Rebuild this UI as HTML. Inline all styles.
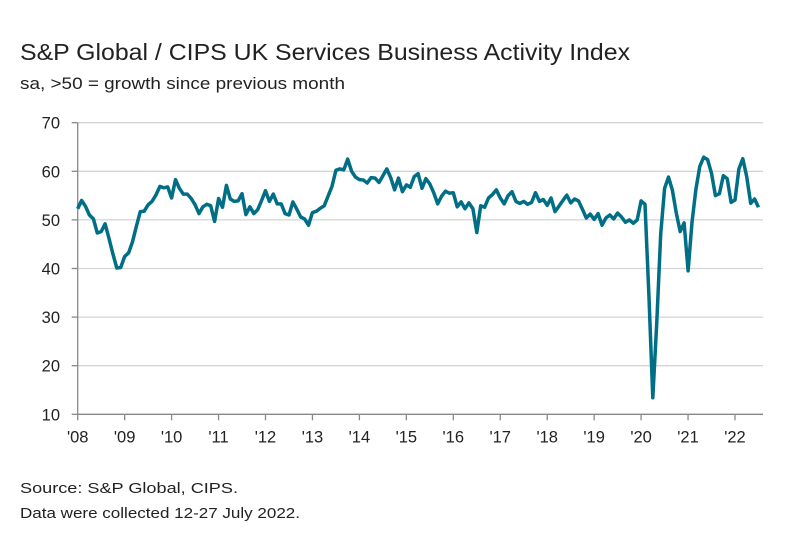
<!DOCTYPE html>
<html><head><meta charset="utf-8"><style>
body{margin:0;background:#fff;font-family:"Liberation Sans",sans-serif;}
</style></head><body>
<svg width="801" height="543" xmlns="http://www.w3.org/2000/svg" font-family="Liberation Sans, sans-serif">
<rect width="801" height="543" fill="#fff"/>
<text x="20" y="60" font-size="23" fill="#222" textLength="610" lengthAdjust="spacingAndGlyphs">S&amp;P Global / CIPS UK Services Business Activity Index</text>
<text x="20" y="89" font-size="16.5" fill="#222" textLength="325" lengthAdjust="spacingAndGlyphs">sa, &gt;50 = growth since previous month</text>
<g id="grid"></g><g id="axes"></g>
<path id="line" fill="none" stroke="#006f85" stroke-width="3.5" stroke-linejoin="round"/>
<text x="20" y="493" font-size="15" fill="#222" textLength="218" lengthAdjust="spacingAndGlyphs">Source: S&amp;P Global, CIPS.</text>
<text x="20" y="518" font-size="15" fill="#222" textLength="280" lengthAdjust="spacingAndGlyphs">Data were collected 12-27 July 2022.</text>
</svg>
<script>
const yTicks=[10,20,30,40,50,60,70];
const yearLabels=["'08","'09","'10","'11","'12","'13","'14","'15","'16","'17","'18","'19","'20","'21","'22"];
const values=[
52.3,54.0,52.8,51.0,50.2,47.3,47.6,49.2,46.2,43.0,40.1,40.2,
42.5,43.2,45.5,48.7,51.7,51.8,53.1,53.8,55.1,56.9,56.6,56.8,
54.5,58.3,56.5,55.3,55.3,54.4,53.1,51.3,52.7,53.2,52.9,49.7,
54.4,52.6,57.1,54.3,53.8,53.9,55.4,51.1,52.7,51.3,52.1,54.0,
56.0,53.8,55.3,53.3,53.3,51.3,51.0,53.7,52.2,50.6,50.2,48.9,
51.5,51.8,52.4,52.9,54.9,56.9,60.2,60.5,60.3,62.5,60.0,58.8,
58.3,58.2,57.6,58.7,58.6,57.7,59.1,60.5,58.7,56.2,58.6,55.8,
57.2,56.7,58.9,59.5,56.5,58.5,57.4,55.6,53.3,54.9,55.9,55.5,
55.6,52.7,53.7,52.3,53.5,52.3,47.4,52.9,52.6,54.5,55.2,56.2,
54.5,53.3,55.0,55.8,53.8,53.4,53.8,53.2,53.6,55.6,53.8,54.2,
53.0,54.5,51.7,52.8,54.0,55.1,53.5,54.3,53.9,52.2,50.4,51.2,
50.1,51.3,48.9,50.4,51.0,50.2,51.4,50.6,49.5,50.0,49.3,50.0,
53.9,53.2,34.5,13.4,29.0,47.1,56.5,58.8,56.1,51.4,47.6,49.4,
39.5,49.5,56.3,61.0,62.9,62.4,59.6,55.0,55.4,59.1,58.5,53.6,
54.1,60.5,62.6,58.9,53.4,54.3,52.6];
const ns="http://www.w3.org/2000/svg";
const x0=77.7,yearW=46.95,yTop=122.7,yBot=414.3;
const y=v=>yBot-(v-10)/60*(yBot-yTop);
const xm=i=>x0+i*yearW/12;
const grid=document.getElementById('grid'),axes=document.getElementById('axes');
yTicks.forEach(t=>{
 const l=document.createElementNS(ns,'line');
 
 
 l.setAttribute('x1',x0);l.setAttribute('x2',763);l.setAttribute('y1',y(t));l.setAttribute('y2',y(t));
 l.setAttribute('stroke',t===10?'#888':'#d4d4d4');l.setAttribute('stroke-width',1.3);grid.appendChild(l);
 const tx=document.createElementNS(ns,'text');
 
 
 tx.setAttribute('x',60);tx.setAttribute('y',y(t)+6);tx.setAttribute('text-anchor','end');tx.setAttribute('font-size','16.5');tx.setAttribute('fill','#222');tx.textContent=t;axes.appendChild(tx);
});
const ya=document.createElementNS(ns,'line');


ya.setAttribute('x1',x0);ya.setAttribute('x2',x0);ya.setAttribute('y1',yTop);ya.setAttribute('y2',yBot);ya.setAttribute('stroke','#888');ya.setAttribute('stroke-width',1.3);axes.appendChild(ya);
yTicks.forEach(t=>{const k=document.createElementNS(ns,'line');
 
 
 k.setAttribute('x1',x0-6);k.setAttribute('x2',x0);k.setAttribute('y1',y(t));k.setAttribute('y2',y(t));k.setAttribute('stroke','#888');k.setAttribute('stroke-width',1.3);axes.appendChild(k);});
yearLabels.forEach((lab,i)=>{
 const xx=x0+i*yearW;
 const k=document.createElementNS(ns,'line');
 
 
 k.setAttribute('x1',xx);k.setAttribute('x2',xx);k.setAttribute('y1',yBot);k.setAttribute('y2',yBot+6);k.setAttribute('stroke','#888');k.setAttribute('stroke-width',1.3);axes.appendChild(k);
 const tx=document.createElementNS(ns,'text');
 
 
 tx.setAttribute('x',xx);tx.setAttribute('y',yBot+28);tx.setAttribute('text-anchor','middle');tx.setAttribute('font-size','16.5');tx.setAttribute('fill','#222');tx.textContent=lab;axes.appendChild(tx);
});
document.getElementById('line').setAttribute('d',values.map((v,i)=>(i?'L':'M')+xm(i).toFixed(1)+','+y(v).toFixed(1)).join(''));
</script>
</body></html>
